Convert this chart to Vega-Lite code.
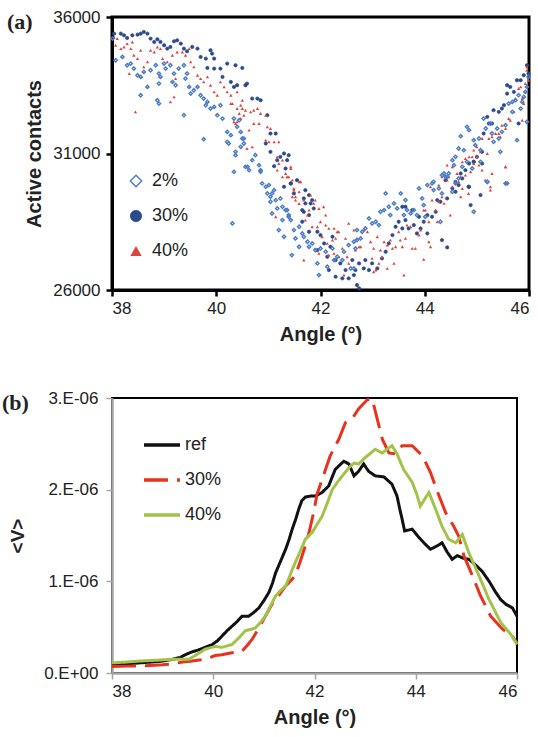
{
"$schema": "https://vega.github.io/schema/vega-lite/v6.json",
"background": "white",
"padding": {"left": 1, "top": 6, "right": 8, "bottom": 4},
"config": {"font": "Liberation Sans", "axis": {"labelFont": "Liberation Sans", "titleFont": "Liberation Sans"}, "legend": {"labelFont": "Liberation Sans"}},
"align": "none",
"spacing": 42,
"resolve": {"scale": {"x": "independent", "y": "independent", "fill": "independent", "stroke": "independent", "shape": "independent", "strokeWidth": "independent", "color": "independent", "strokeDash": "independent"}},
"datasets": {
"scatter": [
{"angle":38.04,"contacts":35391,"series":"30%"},{"angle":38.17,"contacts":35391,"series":"30%"},{"angle":38.23,"contacts":35330,"series":"30%"},{"angle":38.29,"contacts":35232,"series":"30%"},{"angle":38.39,"contacts":35330,"series":"30%"},{"angle":38.49,"contacts":35354,"series":"30%"},{"angle":38.55,"contacts":35391,"series":"30%"},{"angle":38.61,"contacts":35452,"series":"30%"},{"angle":38.68,"contacts":35391,"series":"30%"},{"angle":38.74,"contacts":35208,"series":"30%"},{"angle":38.81,"contacts":35086,"series":"30%"},{"angle":38.87,"contacts":35184,"series":"30%"},{"angle":38.93,"contacts":35086,"series":"30%"},{"angle":39.00,"contacts":34964,"series":"30%"},{"angle":39.06,"contacts":34842,"series":"30%"},{"angle":39.12,"contacts":34903,"series":"30%"},{"angle":39.19,"contacts":35110,"series":"30%"},{"angle":39.25,"contacts":35147,"series":"30%"},{"angle":39.32,"contacts":35025,"series":"30%"},{"angle":39.38,"contacts":34842,"series":"30%"},{"angle":39.44,"contacts":34744,"series":"30%"},{"angle":39.54,"contacts":34903,"series":"30%"},{"angle":39.64,"contacts":34842,"series":"30%"},{"angle":39.70,"contacts":34537,"series":"30%"},{"angle":39.80,"contacts":34476,"series":"30%"},{"angle":39.89,"contacts":34781,"series":"30%"},{"angle":39.92,"contacts":34659,"series":"30%"},{"angle":39.96,"contacts":34476,"series":"30%"},{"angle":39.83,"contacts":34134,"series":"30%"},{"angle":39.96,"contacts":34110,"series":"30%"},{"angle":40.08,"contacts":34110,"series":"30%"},{"angle":40.21,"contacts":34293,"series":"30%"},{"angle":40.37,"contacts":34232,"series":"30%"},{"angle":40.50,"contacts":34134,"series":"30%"},{"angle":40.12,"contacts":33805,"series":"30%"},{"angle":40.28,"contacts":33622,"series":"30%"},{"angle":40.34,"contacts":33439,"series":"30%"},{"angle":40.56,"contacts":33500,"series":"30%"},
{"angle":40.40,"contacts":33501,"series":"30%"},{"angle":40.59,"contacts":33562,"series":"30%"},{"angle":40.69,"contacts":33013,"series":"30%"},{"angle":40.79,"contacts":33013,"series":"30%"},{"angle":40.85,"contacts":32952,"series":"30%"},{"angle":40.98,"contacts":32403,"series":"30%"},{"angle":41.04,"contacts":31732,"series":"30%"},{"angle":41.14,"contacts":31732,"series":"30%"},{"angle":40.95,"contacts":31366,"series":"30%"},{"angle":41.04,"contacts":31061,"series":"30%"},{"angle":41.17,"contacts":30756,"series":"30%"},{"angle":41.23,"contacts":30878,"series":"30%"},{"angle":41.30,"contacts":31000,"series":"30%"},{"angle":41.36,"contacts":30756,"series":"30%"},{"angle":41.39,"contacts":30939,"series":"30%"},{"angle":41.33,"contacts":30451,"series":"30%"},{"angle":41.43,"contacts":29902,"series":"30%"},{"angle":41.55,"contacts":30024,"series":"30%"},{"angle":41.71,"contacts":29658,"series":"30%"},{"angle":41.68,"contacts":29353,"series":"30%"},{"angle":41.78,"contacts":29475,"series":"30%"},{"angle":41.81,"contacts":29170,"series":"30%"},{"angle":41.68,"contacts":28865,"series":"30%"},{"angle":41.78,"contacts":28743,"series":"30%"},{"angle":41.87,"contacts":28987,"series":"30%"},
{"angle":41.11,"contacts":30537,"series":"30%"},{"angle":41.30,"contacts":29781,"series":"30%"},{"angle":41.43,"contacts":29903,"series":"30%"},{"angle":41.49,"contacts":29537,"series":"30%"},{"angle":41.65,"contacts":28927,"series":"30%"},{"angle":41.71,"contacts":29171,"series":"30%"},{"angle":41.84,"contacts":29293,"series":"30%"},{"angle":41.65,"contacts":28500,"series":"30%"},{"angle":41.78,"contacts":28134,"series":"30%"},{"angle":41.94,"contacts":28134,"series":"30%"},{"angle":42.00,"contacts":28012,"series":"30%"},{"angle":42.07,"contacts":27707,"series":"30%"},{"angle":42.23,"contacts":27951,"series":"30%"},{"angle":42.19,"contacts":27585,"series":"30%"},{"angle":42.13,"contacts":27219,"series":"30%"},{"angle":41.94,"contacts":27463,"series":"30%"},{"angle":42.29,"contacts":27097,"series":"30%"},{"angle":42.38,"contacts":26975,"series":"30%"},{"angle":42.16,"contacts":26731,"series":"30%"},{"angle":42.29,"contacts":26487,"series":"30%"},{"angle":42.42,"contacts":26426,"series":"30%"},{"angle":42.54,"contacts":26426,"series":"30%"},{"angle":42.64,"contacts":26548,"series":"30%"},{"angle":42.70,"contacts":26182,"series":"30%"},{"angle":42.74,"contacts":26060,"series":"30%"},{"angle":42.48,"contacts":26731,"series":"30%"},{"angle":42.61,"contacts":27097,"series":"30%"},
{"angle":42.67,"contacts":26731,"series":"30%"},{"angle":42.74,"contacts":26975,"series":"30%"},{"angle":42.83,"contacts":26792,"series":"30%"},{"angle":42.86,"contacts":27097,"series":"30%"},{"angle":42.93,"contacts":26731,"series":"30%"},{"angle":42.99,"contacts":26975,"series":"30%"},{"angle":43.09,"contacts":26792,"series":"30%"},{"angle":43.18,"contacts":27158,"series":"30%"},{"angle":43.25,"contacts":27402,"series":"30%"},{"angle":43.31,"contacts":27707,"series":"30%"},{"angle":43.38,"contacts":28012,"series":"30%"},{"angle":43.44,"contacts":28317,"series":"30%"},{"angle":43.50,"contacts":28500,"series":"30%"},{"angle":43.57,"contacts":28256,"series":"30%"},{"angle":43.63,"contacts":28561,"series":"30%"},{"angle":43.69,"contacts":28256,"series":"30%"},{"angle":43.79,"contacts":28378,"series":"30%"},{"angle":43.85,"contacts":28073,"series":"30%"},{"angle":43.92,"contacts":28256,"series":"30%"},{"angle":43.98,"contacts":28500,"series":"30%"},{"angle":44.05,"contacts":28744,"series":"30%"},{"angle":44.14,"contacts":28683,"series":"30%"},{"angle":44.21,"contacts":28866,"series":"30%"},{"angle":44.24,"contacts":29293,"series":"30%"},{"angle":44.30,"contacts":29232,"series":"30%"},{"angle":44.43,"contacts":29354,"series":"30%"},{"angle":44.53,"contacts":29720,"series":"30%"},{"angle":44.59,"contacts":29598,"series":"30%"},{"angle":44.65,"contacts":29842,"series":"30%"},{"angle":44.72,"contacts":30086,"series":"30%"},{"angle":44.78,"contacts":30391,"series":"30%"},{"angle":44.84,"contacts":29781,"series":"30%"},{"angle":44.94,"contacts":30696,"series":"30%"},{"angle":45.07,"contacts":29476,"series":"30%"},{"angle":44.88,"contacts":29110,"series":"30%"},{"angle":44.33,"contacts":27829,"series":"30%"},{"angle":44.43,"contacts":27561,"series":"30%"},{"angle":44.05,"contacts":28073,"series":"30%"},{"angle":43.89,"contacts":28683,"series":"30%"},{"angle":43.63,"contacts":29049,"series":"30%"},{"angle":43.57,"contacts":29049,"series":"30%"},{"angle":43.76,"contacts":28927,"series":"30%"},
{"angle":44.40,"contacts":30024,"series":"30%"},{"angle":44.59,"contacts":29963,"series":"30%"},{"angle":44.69,"contacts":30268,"series":"30%"},{"angle":44.85,"contacts":30634,"series":"30%"},{"angle":44.94,"contacts":30695,"series":"30%"},{"angle":45.00,"contacts":30878,"series":"30%"},{"angle":45.10,"contacts":31061,"series":"30%"},{"angle":45.13,"contacts":31732,"series":"30%"},{"angle":45.20,"contacts":32342,"series":"30%"},{"angle":45.23,"contacts":32098,"series":"30%"},{"angle":45.29,"contacts":32098,"series":"30%"},{"angle":45.32,"contacts":32586,"series":"30%"},{"angle":45.42,"contacts":32525,"series":"30%"},{"angle":45.48,"contacts":32647,"series":"30%"},{"angle":45.52,"contacts":32769,"series":"30%"},{"angle":45.58,"contacts":33501,"series":"30%"},{"angle":45.64,"contacts":33440,"series":"30%"},{"angle":45.71,"contacts":33257,"series":"30%"},{"angle":45.77,"contacts":33684,"series":"30%"},{"angle":45.84,"contacts":33684,"series":"30%"},{"angle":45.90,"contacts":33867,"series":"30%"},{"angle":45.96,"contacts":34233,"series":"30%"},{"angle":45.99,"contacts":33928,"series":"30%"},{"angle":45.80,"contacts":32098,"series":"30%"},{"angle":45.58,"contacts":33196,"series":"30%"},{"angle":45.10,"contacts":30634,"series":"30%"},{"angle":44.85,"contacts":29780,"series":"30%"},

{"angle":38.04,"contacts":35269,"series":"40%"},{"angle":38.10,"contacts":35208,"series":"40%"},{"angle":38.07,"contacts":34964,"series":"40%"},{"angle":38.17,"contacts":34842,"series":"40%"},{"angle":38.23,"contacts":34903,"series":"40%"},{"angle":38.29,"contacts":35025,"series":"40%"},{"angle":38.36,"contacts":34842,"series":"40%"},{"angle":38.39,"contacts":35086,"series":"40%"},{"angle":38.42,"contacts":34598,"series":"40%"},{"angle":38.49,"contacts":34476,"series":"40%"},{"angle":38.55,"contacts":34781,"series":"40%"},{"angle":38.61,"contacts":34171,"series":"40%"},{"angle":38.68,"contacts":34354,"series":"40%"},{"angle":38.74,"contacts":34781,"series":"40%"},{"angle":38.81,"contacts":34720,"series":"40%"},{"angle":38.87,"contacts":34903,"series":"40%"},{"angle":38.93,"contacts":34842,"series":"40%"},{"angle":38.97,"contacts":34476,"series":"40%"},{"angle":39.06,"contacts":34354,"series":"40%"},{"angle":39.16,"contacts":34598,"series":"40%"},{"angle":39.22,"contacts":33744,"series":"40%"},{"angle":39.12,"contacts":32890,"series":"40%"},{"angle":39.19,"contacts":33073,"series":"40%"},{"angle":39.25,"contacts":34720,"series":"40%"},{"angle":39.35,"contacts":34720,"series":"40%"},{"angle":39.41,"contacts":34598,"series":"40%"},{"angle":39.48,"contacts":34842,"series":"40%"},{"angle":39.51,"contacts":34354,"series":"40%"},{"angle":39.57,"contacts":34171,"series":"40%"},{"angle":39.64,"contacts":33866,"series":"40%"},{"angle":39.70,"contacts":33744,"series":"40%"},{"angle":39.76,"contacts":33622,"series":"40%"},{"angle":39.83,"contacts":33805,"series":"40%"},{"angle":39.89,"contacts":33500,"series":"40%"},{"angle":39.96,"contacts":33256,"series":"40%"},{"angle":40.02,"contacts":33134,"series":"40%"},{"angle":40.08,"contacts":33622,"series":"40%"},{"angle":40.15,"contacts":33439,"series":"40%"},{"angle":40.21,"contacts":33256,"series":"40%"},{"angle":40.28,"contacts":33134,"series":"40%"},{"angle":40.31,"contacts":32829,"series":"40%"},{"angle":40.40,"contacts":33256,"series":"40%"},{"angle":40.47,"contacts":32768,"series":"40%"},{"angle":40.50,"contacts":32951,"series":"40%"},{"angle":40.44,"contacts":32463,"series":"40%"},{"angle":40.53,"contacts":32402,"series":"40%"},{"angle":40.40,"contacts":32158,"series":"40%"},{"angle":40.34,"contacts":32158,"series":"40%"},{"angle":38.45,"contacts":32524,"series":"40%"},{"angle":38.33,"contacts":33927,"series":"40%"},
{"angle":40.28,"contacts":32830,"series":"40%"},{"angle":40.40,"contacts":32647,"series":"40%"},{"angle":40.50,"contacts":32647,"series":"40%"},{"angle":40.56,"contacts":32586,"series":"40%"},{"angle":40.66,"contacts":32525,"series":"40%"},{"angle":40.72,"contacts":32586,"series":"40%"},{"angle":40.79,"contacts":32647,"series":"40%"},{"angle":40.85,"contacts":32464,"series":"40%"},{"angle":40.95,"contacts":32403,"series":"40%"},{"angle":40.98,"contacts":31976,"series":"40%"},{"angle":41.04,"contacts":31915,"series":"40%"},{"angle":40.82,"contacts":32098,"series":"40%"},{"angle":40.72,"contacts":32098,"series":"40%"},{"angle":40.63,"contacts":31854,"series":"40%"},{"angle":40.47,"contacts":32281,"series":"40%"},{"angle":40.37,"contacts":32098,"series":"40%"},{"angle":40.95,"contacts":31488,"series":"40%"},{"angle":41.01,"contacts":31427,"series":"40%"},{"angle":41.11,"contacts":31427,"series":"40%"},{"angle":41.20,"contacts":31427,"series":"40%"},{"angle":41.17,"contacts":30878,"series":"40%"},{"angle":41.27,"contacts":30756,"series":"40%"},{"angle":41.43,"contacts":30451,"series":"40%"},{"angle":41.33,"contacts":30268,"series":"40%"},{"angle":41.27,"contacts":30146,"series":"40%"},{"angle":41.39,"contacts":30146,"series":"40%"},{"angle":41.46,"contacts":30024,"series":"40%"},{"angle":41.59,"contacts":29963,"series":"40%"},{"angle":41.49,"contacts":29658,"series":"40%"},{"angle":41.52,"contacts":29414,"series":"40%"},{"angle":41.59,"contacts":29170,"series":"40%"},{"angle":41.68,"contacts":29292,"series":"40%"},{"angle":41.81,"contacts":29475,"series":"40%"},{"angle":41.90,"contacts":29292,"series":"40%"},{"angle":41.97,"contacts":28987,"series":"40%"},{"angle":42.06,"contacts":29048,"series":"40%"},{"angle":42.10,"contacts":28743,"series":"40%"},{"angle":41.14,"contacts":28682,"series":"40%"},{"angle":40.59,"contacts":31183,"series":"40%"},{"angle":40.69,"contacts":31244,"series":"40%"},
{"angle":41.20,"contacts":30635,"series":"40%"},{"angle":41.17,"contacts":30391,"series":"40%"},{"angle":41.36,"contacts":30147,"series":"40%"},{"angle":41.43,"contacts":30513,"series":"40%"},{"angle":41.49,"contacts":29720,"series":"40%"},{"angle":41.59,"contacts":29598,"series":"40%"},{"angle":41.46,"contacts":29415,"series":"40%"},{"angle":41.62,"contacts":29964,"series":"40%"},{"angle":41.52,"contacts":29293,"series":"40%"},{"angle":41.78,"contacts":28927,"series":"40%"},{"angle":41.87,"contacts":29171,"series":"40%"},{"angle":41.75,"contacts":28744,"series":"40%"},{"angle":41.71,"contacts":28561,"series":"40%"},{"angle":41.84,"contacts":28317,"series":"40%"},{"angle":41.94,"contacts":28317,"series":"40%"},{"angle":42.00,"contacts":28500,"series":"40%"},{"angle":42.10,"contacts":28378,"series":"40%"},{"angle":42.16,"contacts":28256,"series":"40%"},{"angle":42.26,"contacts":28256,"series":"40%"},{"angle":42.32,"contacts":28134,"series":"40%"},{"angle":42.03,"contacts":27951,"series":"40%"},{"angle":42.13,"contacts":27707,"series":"40%"},{"angle":42.23,"contacts":27829,"series":"40%"},{"angle":42.29,"contacts":27890,"series":"40%"},{"angle":42.35,"contacts":28134,"series":"40%"},{"angle":42.48,"contacts":27890,"series":"40%"},{"angle":42.54,"contacts":28439,"series":"40%"},{"angle":42.64,"contacts":28195,"series":"40%"},{"angle":42.74,"contacts":27585,"series":"40%"},{"angle":42.67,"contacts":27463,"series":"40%"},{"angle":42.42,"contacts":27524,"series":"40%"},{"angle":42.51,"contacts":27219,"series":"40%"},{"angle":42.26,"contacts":27341,"series":"40%"},{"angle":42.16,"contacts":27280,"series":"40%"},{"angle":41.97,"contacts":27341,"series":"40%"},{"angle":41.68,"contacts":27097,"series":"40%"},{"angle":42.35,"contacts":27219,"series":"40%"},{"angle":42.45,"contacts":26548,"series":"40%"},{"angle":42.54,"contacts":26975,"series":"40%"},
{"angle":42.70,"contacts":27890,"series":"40%"},{"angle":42.77,"contacts":27585,"series":"40%"},{"angle":42.83,"contacts":28195,"series":"40%"},{"angle":42.90,"contacts":28134,"series":"40%"},{"angle":42.96,"contacts":27768,"series":"40%"},{"angle":43.02,"contacts":27524,"series":"40%"},{"angle":43.09,"contacts":27951,"series":"40%"},{"angle":43.15,"contacts":27463,"series":"40%"},{"angle":43.18,"contacts":27219,"series":"40%"},{"angle":42.99,"contacts":27158,"series":"40%"},{"angle":43.02,"contacts":26670,"series":"40%"},{"angle":43.06,"contacts":26731,"series":"40%"},{"angle":43.12,"contacts":26975,"series":"40%"},{"angle":43.22,"contacts":27768,"series":"40%"},{"angle":43.28,"contacts":27646,"series":"40%"},{"angle":43.34,"contacts":27829,"series":"40%"},{"angle":43.38,"contacts":27524,"series":"40%"},{"angle":43.44,"contacts":27585,"series":"40%"},{"angle":43.50,"contacts":28134,"series":"40%"},{"angle":43.53,"contacts":27829,"series":"40%"},{"angle":43.57,"contacts":27585,"series":"40%"},{"angle":43.63,"contacts":27890,"series":"40%"},{"angle":43.66,"contacts":28378,"series":"40%"},{"angle":43.73,"contacts":28317,"series":"40%"},{"angle":43.76,"contacts":27524,"series":"40%"},{"angle":43.82,"contacts":27524,"series":"40%"},{"angle":43.89,"contacts":28012,"series":"40%"},{"angle":43.92,"contacts":28195,"series":"40%"},{"angle":43.98,"contacts":28927,"series":"40%"},{"angle":44.01,"contacts":28927,"series":"40%"},{"angle":44.08,"contacts":28500,"series":"40%"},{"angle":44.14,"contacts":29293,"series":"40%"},{"angle":44.21,"contacts":28927,"series":"40%"},{"angle":44.24,"contacts":28500,"series":"40%"},{"angle":44.27,"contacts":29232,"series":"40%"},{"angle":44.33,"contacts":29415,"series":"40%"},{"angle":44.37,"contacts":29171,"series":"40%"},{"angle":44.43,"contacts":30025,"series":"40%"},{"angle":44.46,"contacts":30147,"series":"40%"},{"angle":44.53,"contacts":29781,"series":"40%"},{"angle":44.65,"contacts":29964,"series":"40%"},{"angle":44.72,"contacts":29720,"series":"40%"},{"angle":44.78,"contacts":30208,"series":"40%"},{"angle":44.84,"contacts":29537,"series":"40%"},{"angle":44.88,"contacts":30330,"series":"40%"},{"angle":44.94,"contacts":30635,"series":"40%"},{"angle":45.04,"contacts":30574,"series":"40%"},{"angle":45.10,"contacts":30391,"series":"40%"},{"angle":45.16,"contacts":30025,"series":"40%"},{"angle":45.26,"contacts":29659,"series":"40%"},{"angle":45.55,"contacts":30513,"series":"40%"},{"angle":43.41,"contacts":26975,"series":"40%"},{"angle":43.60,"contacts":26548,"series":"40%"},{"angle":43.98,"contacts":27121,"series":"40%"},{"angle":44.08,"contacts":27768,"series":"40%"},{"angle":44.11,"contacts":27585,"series":"40%"},{"angle":43.28,"contacts":26792,"series":"40%"},{"angle":44.49,"contacts":28744,"series":"40%"},{"angle":44.69,"contacts":29415,"series":"40%"},
{"angle":44.11,"contacts":29780,"series":"40%"},{"angle":44.27,"contacts":29841,"series":"40%"},{"angle":44.33,"contacts":30146,"series":"40%"},{"angle":44.43,"contacts":30573,"series":"40%"},{"angle":44.53,"contacts":30512,"series":"40%"},{"angle":44.62,"contacts":30268,"series":"40%"},{"angle":44.69,"contacts":30146,"series":"40%"},{"angle":44.72,"contacts":30695,"series":"40%"},{"angle":44.78,"contacts":30817,"series":"40%"},{"angle":44.85,"contacts":30878,"series":"40%"},{"angle":44.91,"contacts":30878,"series":"40%"},{"angle":44.94,"contacts":31122,"series":"40%"},{"angle":45.00,"contacts":31244,"series":"40%"},{"angle":45.07,"contacts":31061,"series":"40%"},{"angle":45.10,"contacts":31549,"series":"40%"},{"angle":45.20,"contacts":31000,"series":"40%"},{"angle":45.23,"contacts":31549,"series":"40%"},{"angle":45.29,"contacts":31610,"series":"40%"},{"angle":45.36,"contacts":31732,"series":"40%"},{"angle":45.42,"contacts":31732,"series":"40%"},{"angle":45.45,"contacts":31610,"series":"40%"},{"angle":45.48,"contacts":32037,"series":"40%"},{"angle":45.55,"contacts":31915,"series":"40%"},{"angle":45.61,"contacts":32281,"series":"40%"},{"angle":45.64,"contacts":32220,"series":"40%"},{"angle":45.71,"contacts":32525,"series":"40%"},{"angle":45.74,"contacts":33013,"series":"40%"},{"angle":45.80,"contacts":33379,"series":"40%"},{"angle":45.84,"contacts":33440,"series":"40%"},{"angle":45.87,"contacts":33013,"series":"40%"},{"angle":45.90,"contacts":32830,"series":"40%"},{"angle":45.93,"contacts":33562,"series":"40%"},{"angle":45.96,"contacts":34172,"series":"40%"},{"angle":45.99,"contacts":33684,"series":"40%"},{"angle":45.26,"contacts":29780,"series":"40%"},{"angle":45.55,"contacts":30512,"series":"40%"},{"angle":45.29,"contacts":30268,"series":"40%"},{"angle":45.00,"contacts":30878,"series":"40%"},{"angle":45.87,"contacts":32220,"series":"40%"},{"angle":45.96,"contacts":34050,"series":"40%"},

{"angle":38.01,"contacts":35208,"series":"2%"},{"angle":38.07,"contacts":34415,"series":"2%"},{"angle":38.20,"contacts":34537,"series":"2%"},{"angle":38.29,"contacts":34232,"series":"2%"},{"angle":38.36,"contacts":34293,"series":"2%"},{"angle":38.42,"contacts":34110,"series":"2%"},{"angle":38.49,"contacts":33866,"series":"2%"},{"angle":38.55,"contacts":33805,"series":"2%"},{"angle":38.61,"contacts":33988,"series":"2%"},{"angle":38.68,"contacts":33439,"series":"2%"},{"angle":38.55,"contacts":33134,"series":"2%"},{"angle":38.74,"contacts":34049,"series":"2%"},{"angle":38.84,"contacts":34232,"series":"2%"},{"angle":38.90,"contacts":33927,"series":"2%"},{"angle":38.90,"contacts":33561,"series":"2%"},{"angle":38.93,"contacts":33805,"series":"2%"},{"angle":39.00,"contacts":34293,"series":"2%"},{"angle":39.03,"contacts":34110,"series":"2%"},{"angle":39.12,"contacts":34232,"series":"2%"},{"angle":39.16,"contacts":33622,"series":"2%"},{"angle":39.22,"contacts":33500,"series":"2%"},{"angle":39.19,"contacts":33927,"series":"2%"},{"angle":39.28,"contacts":34110,"series":"2%"},{"angle":39.38,"contacts":34232,"series":"2%"},{"angle":39.41,"contacts":33744,"series":"2%"},{"angle":39.44,"contacts":33927,"series":"2%"},{"angle":39.48,"contacts":33439,"series":"2%"},{"angle":39.51,"contacts":33195,"series":"2%"},{"angle":39.57,"contacts":33317,"series":"2%"},{"angle":39.64,"contacts":33439,"series":"2%"},{"angle":39.70,"contacts":33134,"series":"2%"},{"angle":39.76,"contacts":33012,"series":"2%"},{"angle":39.83,"contacts":32890,"series":"2%"},{"angle":39.80,"contacts":32768,"series":"2%"},{"angle":39.89,"contacts":32646,"series":"2%"},{"angle":39.96,"contacts":32707,"series":"2%"},{"angle":40.08,"contacts":32768,"series":"2%"},{"angle":40.02,"contacts":32402,"series":"2%"},{"angle":38.87,"contacts":32951,"series":"2%"},{"angle":38.90,"contacts":32829,"series":"2%"},{"angle":39.38,"contacts":32402,"series":"2%"},{"angle":39.76,"contacts":31524,"series":"2%"},{"angle":40.12,"contacts":32280,"series":"2%"},{"angle":40.34,"contacts":32280,"series":"2%"},{"angle":40.44,"contacts":32219,"series":"2%"},{"angle":40.21,"contacts":31792,"series":"2%"},{"angle":40.28,"contacts":31670,"series":"2%"},{"angle":40.47,"contacts":31792,"series":"2%"},{"angle":40.53,"contacts":31548,"series":"2%"},{"angle":40.24,"contacts":31365,"series":"2%"},{"angle":40.37,"contacts":31060,"series":"2%"},
{"angle":40.40,"contacts":31976,"series":"2%"},{"angle":40.37,"contacts":30939,"series":"2%"},{"angle":40.21,"contacts":31427,"series":"2%"},{"angle":40.50,"contacts":31549,"series":"2%"},{"angle":40.53,"contacts":31366,"series":"2%"},{"angle":40.47,"contacts":31244,"series":"2%"},{"angle":40.56,"contacts":30512,"series":"2%"},{"angle":40.63,"contacts":30390,"series":"2%"},{"angle":40.69,"contacts":30756,"series":"2%"},{"angle":40.75,"contacts":30939,"series":"2%"},{"angle":40.82,"contacts":30573,"series":"2%"},{"angle":40.85,"contacts":30390,"series":"2%"},{"angle":40.88,"contacts":29902,"series":"2%"},{"angle":40.95,"contacts":29780,"series":"2%"},{"angle":40.98,"contacts":29536,"series":"2%"},{"angle":41.04,"contacts":29414,"series":"2%"},{"angle":41.11,"contacts":29658,"series":"2%"},{"angle":41.14,"contacts":29292,"series":"2%"},{"angle":41.23,"contacts":29353,"series":"2%"},{"angle":41.17,"contacts":28987,"series":"2%"},{"angle":41.27,"contacts":29048,"series":"2%"},{"angle":41.36,"contacts":28926,"series":"2%"},{"angle":41.39,"contacts":28743,"series":"2%"},{"angle":41.07,"contacts":28804,"series":"2%"},{"angle":40.34,"contacts":30329,"series":"2%"},
{"angle":40.31,"contacts":28439,"series":"2%"},{"angle":40.60,"contacts":30513,"series":"2%"},{"angle":40.85,"contacts":30330,"series":"2%"},{"angle":41.01,"contacts":29842,"series":"2%"},{"angle":41.07,"contacts":29537,"series":"2%"},{"angle":41.04,"contacts":29232,"series":"2%"},{"angle":41.33,"contacts":28927,"series":"2%"},{"angle":41.39,"contacts":28683,"series":"2%"},{"angle":41.27,"contacts":28561,"series":"2%"},{"angle":41.20,"contacts":28195,"series":"2%"},{"angle":41.30,"contacts":27951,"series":"2%"},{"angle":41.43,"contacts":28561,"series":"2%"},{"angle":41.49,"contacts":28195,"series":"2%"},{"angle":41.52,"contacts":27890,"series":"2%"},{"angle":41.59,"contacts":28317,"series":"2%"},{"angle":41.65,"contacts":28073,"series":"2%"},{"angle":41.68,"contacts":27951,"series":"2%"},{"angle":41.75,"contacts":27768,"series":"2%"},{"angle":41.78,"contacts":27585,"series":"2%"},{"angle":41.59,"contacts":27585,"series":"2%"},{"angle":41.45,"contacts":27280,"series":"2%"},{"angle":41.84,"contacts":27707,"series":"2%"},{"angle":41.90,"contacts":27463,"series":"2%"},{"angle":42.00,"contacts":27524,"series":"2%"},{"angle":42.10,"contacts":27402,"series":"2%"},{"angle":41.94,"contacts":26975,"series":"2%"},{"angle":42.13,"contacts":26853,"series":"2%"},{"angle":41.97,"contacts":26548,"series":"2%"},{"angle":42.23,"contacts":27524,"series":"2%"},{"angle":42.26,"contacts":27097,"series":"2%"},{"angle":42.32,"contacts":27219,"series":"2%"},{"angle":42.42,"contacts":27097,"series":"2%"},{"angle":42.54,"contacts":27646,"series":"2%"},{"angle":42.64,"contacts":27768,"series":"2%"},{"angle":42.70,"contacts":28195,"series":"2%"},{"angle":42.58,"contacts":26792,"series":"2%"},{"angle":42.45,"contacts":27402,"series":"2%"},
{"angle":42.64,"contacts":26792,"series":"2%"},{"angle":42.67,"contacts":27524,"series":"2%"},{"angle":42.70,"contacts":27829,"series":"2%"},{"angle":42.77,"contacts":27890,"series":"2%"},{"angle":42.80,"contacts":28134,"series":"2%"},{"angle":42.86,"contacts":28256,"series":"2%"},{"angle":42.93,"contacts":28622,"series":"2%"},{"angle":42.99,"contacts":28439,"series":"2%"},{"angle":43.06,"contacts":28500,"series":"2%"},{"angle":43.12,"contacts":28378,"series":"2%"},{"angle":43.15,"contacts":28866,"series":"2%"},{"angle":43.22,"contacts":28927,"series":"2%"},{"angle":43.25,"contacts":29537,"series":"2%"},{"angle":43.31,"contacts":29049,"series":"2%"},{"angle":43.34,"contacts":28744,"series":"2%"},{"angle":43.41,"contacts":29171,"series":"2%"},{"angle":43.47,"contacts":28988,"series":"2%"},{"angle":43.54,"contacts":29537,"series":"2%"},{"angle":43.63,"contacts":29293,"series":"2%"},{"angle":43.60,"contacts":28744,"series":"2%"},{"angle":43.66,"contacts":28927,"series":"2%"},{"angle":43.73,"contacts":28805,"series":"2%"},{"angle":43.79,"contacts":28927,"series":"2%"},{"angle":43.85,"contacts":28744,"series":"2%"},{"angle":43.89,"contacts":29720,"series":"2%"},{"angle":43.95,"contacts":29354,"series":"2%"},{"angle":43.98,"contacts":29110,"series":"2%"},{"angle":44.05,"contacts":29842,"series":"2%"},{"angle":44.14,"contacts":29903,"series":"2%"},{"angle":44.17,"contacts":29659,"series":"2%"},{"angle":44.27,"contacts":29720,"series":"2%"},{"angle":44.33,"contacts":29537,"series":"2%"},{"angle":44.37,"contacts":30269,"series":"2%"},{"angle":44.43,"contacts":30147,"series":"2%"},{"angle":44.53,"contacts":29598,"series":"2%"},{"angle":44.59,"contacts":29903,"series":"2%"},{"angle":44.65,"contacts":30086,"series":"2%"},{"angle":44.72,"contacts":30513,"series":"2%"},{"angle":44.81,"contacts":30696,"series":"2%"},{"angle":44.91,"contacts":30452,"series":"2%"},{"angle":45.07,"contacts":30696,"series":"2%"},{"angle":44.94,"contacts":28866,"series":"2%"},{"angle":45.20,"contacts":29964,"series":"2%"},{"angle":45.55,"contacts":29903,"series":"2%"},{"angle":44.01,"contacts":28683,"series":"2%"},{"angle":44.30,"contacts":28500,"series":"2%"},
{"angle":44.17,"contacts":29963,"series":"2%"},{"angle":44.33,"contacts":30207,"series":"2%"},{"angle":44.40,"contacts":30146,"series":"2%"},{"angle":44.46,"contacts":30268,"series":"2%"},{"angle":44.53,"contacts":30756,"series":"2%"},{"angle":44.59,"contacts":30878,"series":"2%"},{"angle":44.56,"contacts":30573,"series":"2%"},{"angle":44.65,"contacts":31183,"series":"2%"},{"angle":44.75,"contacts":31122,"series":"2%"},{"angle":44.69,"contacts":31634,"series":"2%"},{"angle":44.81,"contacts":31976,"series":"2%"},{"angle":44.85,"contacts":31854,"series":"2%"},{"angle":44.94,"contacts":31488,"series":"2%"},{"angle":44.97,"contacts":31305,"series":"2%"},{"angle":45.04,"contacts":31549,"series":"2%"},{"angle":45.07,"contacts":31122,"series":"2%"},{"angle":45.13,"contacts":32281,"series":"2%"},{"angle":45.17,"contacts":31915,"series":"2%"},{"angle":45.26,"contacts":32098,"series":"2%"},{"angle":45.29,"contacts":31732,"series":"2%"},{"angle":45.32,"contacts":31427,"series":"2%"},{"angle":45.39,"contacts":31915,"series":"2%"},{"angle":45.45,"contacts":31061,"series":"2%"},{"angle":45.48,"contacts":31793,"series":"2%"},{"angle":45.55,"contacts":32037,"series":"2%"},{"angle":45.61,"contacts":32830,"series":"2%"},{"angle":45.68,"contacts":32891,"series":"2%"},{"angle":45.74,"contacts":32952,"series":"2%"},{"angle":45.77,"contacts":31488,"series":"2%"},{"angle":45.84,"contacts":32647,"series":"2%"},{"angle":45.87,"contacts":32891,"series":"2%"},{"angle":45.90,"contacts":33074,"series":"2%"},{"angle":45.93,"contacts":33257,"series":"2%"},{"angle":45.96,"contacts":33440,"series":"2%"},{"angle":45.99,"contacts":33806,"series":"2%"},{"angle":45.96,"contacts":32159,"series":"2%"},{"angle":45.58,"contacts":29902,"series":"2%"},{"angle":45.20,"contacts":29963,"series":"2%"},{"angle":45.80,"contacts":33135,"series":"2%"},{"angle":45.68,"contacts":32525,"series":"2%"},{"angle":45.42,"contacts":31549,"series":"2%"}
],
"lines": [
{"angle":38.00,"v":0.095e-6,"series":"ref"},{"angle":38.30,"v":0.10e-6,"series":"ref"},{"angle":38.53,"v":0.11e-6,"series":"ref"},{"angle":38.80,"v":0.12e-6,"series":"ref"},{"angle":39.00,"v":0.13e-6,"series":"ref"},{"angle":39.19,"v":0.15e-6,"series":"ref"},{"angle":39.35,"v":0.17e-6,"series":"ref"},{"angle":39.45,"v":0.20e-6,"series":"ref"},{"angle":39.58,"v":0.23e-6,"series":"ref"},{"angle":39.70,"v":0.25e-6,"series":"ref"},{"angle":39.84,"v":0.28e-6,"series":"ref"},{"angle":39.98,"v":0.31e-6,"series":"ref"},{"angle":40.08,"v":0.35e-6,"series":"ref"},{"angle":40.17,"v":0.40e-6,"series":"ref"},{"angle":40.27,"v":0.46e-6,"series":"ref"},{"angle":40.37,"v":0.51e-6,"series":"ref"},{"angle":40.47,"v":0.56e-6,"series":"ref"},{"angle":40.57,"v":0.62e-6,"series":"ref"},{"angle":40.70,"v":0.62e-6,"series":"ref"},{"angle":40.80,"v":0.66e-6,"series":"ref"},{"angle":40.90,"v":0.71e-6,"series":"ref"},{"angle":41.00,"v":0.79e-6,"series":"ref"},{"angle":41.10,"v":0.88e-6,"series":"ref"},{"angle":41.17,"v":0.98e-6,"series":"ref"},{"angle":41.23,"v":1.09e-6,"series":"ref"},{"angle":41.33,"v":1.22e-6,"series":"ref"},{"angle":41.43,"v":1.35e-6,"series":"ref"},{"angle":41.50,"v":1.46e-6,"series":"ref"},{"angle":41.56,"v":1.57e-6,"series":"ref"},{"angle":41.63,"v":1.68e-6,"series":"ref"},{"angle":41.69,"v":1.79e-6,"series":"ref"},{"angle":41.75,"v":1.88e-6,"series":"ref"},{"angle":41.82,"v":1.92e-6,"series":"ref"},{"angle":41.92,"v":1.93e-6,"series":"ref"},{"angle":42.02,"v":1.93e-6,"series":"ref"},{"angle":42.15,"v":1.97e-6,"series":"ref"},{"angle":42.28,"v":2.04e-6,"series":"ref"},{"angle":42.35,"v":2.14e-6,"series":"ref"},{"angle":42.41,"v":2.22e-6,"series":"ref"},{"angle":42.50,"v":2.27e-6,"series":"ref"},{"angle":42.58,"v":2.31e-6,"series":"ref"},{"angle":42.68,"v":2.28e-6,"series":"ref"},{"angle":42.78,"v":2.15e-6,"series":"ref"},{"angle":42.87,"v":2.20e-6,"series":"ref"},{"angle":42.97,"v":2.28e-6,"series":"ref"},{"angle":43.07,"v":2.20e-6,"series":"ref"},{"angle":43.20,"v":2.15e-6,"series":"ref"},{"angle":43.37,"v":2.14e-6,"series":"ref"},{"angle":43.53,"v":2.06e-6,"series":"ref"},{"angle":43.63,"v":1.93e-6,"series":"ref"},{"angle":43.68,"v":1.80e-6,"series":"ref"},{"angle":43.73,"v":1.68e-6,"series":"ref"},{"angle":43.78,"v":1.55e-6,"series":"ref"},{"angle":43.86,"v":1.56e-6,"series":"ref"},{"angle":43.93,"v":1.57e-6,"series":"ref"},{"angle":44.06,"v":1.48e-6,"series":"ref"},{"angle":44.18,"v":1.41e-6,"series":"ref"},{"angle":44.29,"v":1.35e-6,"series":"ref"},{"angle":44.40,"v":1.38e-6,"series":"ref"},{"angle":44.52,"v":1.42e-6,"series":"ref"},{"angle":44.62,"v":1.32e-6,"series":"ref"},{"angle":44.72,"v":1.24e-6,"series":"ref"},{"angle":44.82,"v":1.28e-6,"series":"ref"},{"angle":44.95,"v":1.25e-6,"series":"ref"},{"angle":45.05,"v":1.24e-6,"series":"ref"},{"angle":45.18,"v":1.18e-6,"series":"ref"},{"angle":45.31,"v":1.11e-6,"series":"ref"},{"angle":45.45,"v":1.00e-6,"series":"ref"},{"angle":45.58,"v":0.88e-6,"series":"ref"},{"angle":45.68,"v":0.80e-6,"series":"ref"},{"angle":45.78,"v":0.75e-6,"series":"ref"},{"angle":45.91,"v":0.71e-6,"series":"ref"},{"angle":46.00,"v":0.62e-6,"series":"ref"},
{"angle":38.00,"v":0.07e-6,"series":"30%"},{"angle":38.30,"v":0.075e-6,"series":"30%"},{"angle":38.66,"v":0.08e-6,"series":"30%"},{"angle":39.00,"v":0.09e-6,"series":"30%"},{"angle":39.19,"v":0.10e-6,"series":"30%"},{"angle":39.40,"v":0.12e-6,"series":"30%"},{"angle":39.58,"v":0.13e-6,"series":"30%"},{"angle":39.84,"v":0.15e-6,"series":"30%"},{"angle":40.04,"v":0.19e-6,"series":"30%"},{"angle":40.17,"v":0.20e-6,"series":"30%"},{"angle":40.37,"v":0.22e-6,"series":"30%"},{"angle":40.57,"v":0.24e-6,"series":"30%"},{"angle":40.67,"v":0.30e-6,"series":"30%"},{"angle":40.77,"v":0.37e-6,"series":"30%"},{"angle":40.87,"v":0.46e-6,"series":"30%"},{"angle":40.96,"v":0.55e-6,"series":"30%"},{"angle":41.06,"v":0.65e-6,"series":"30%"},{"angle":41.16,"v":0.75e-6,"series":"30%"},{"angle":41.30,"v":0.85e-6,"series":"30%"},{"angle":41.43,"v":0.95e-6,"series":"30%"},{"angle":41.52,"v":1.00e-6,"series":"30%"},{"angle":41.62,"v":1.06e-6,"series":"30%"},{"angle":41.72,"v":1.22e-6,"series":"30%"},{"angle":41.82,"v":1.39e-6,"series":"30%"},{"angle":41.90,"v":1.55e-6,"series":"30%"},{"angle":41.99,"v":1.77e-6,"series":"30%"},{"angle":42.05,"v":1.95e-6,"series":"30%"},{"angle":42.15,"v":2.11e-6,"series":"30%"},{"angle":42.31,"v":2.37e-6,"series":"30%"},{"angle":42.48,"v":2.55e-6,"series":"30%"},{"angle":42.61,"v":2.73e-6,"series":"30%"},{"angle":42.74,"v":2.77e-6,"series":"30%"},{"angle":42.87,"v":2.88e-6,"series":"30%"},{"angle":43.04,"v":2.98e-6,"series":"30%"},{"angle":43.14,"v":2.99e-6,"series":"30%"},{"angle":43.24,"v":2.77e-6,"series":"30%"},{"angle":43.34,"v":2.55e-6,"series":"30%"},{"angle":43.47,"v":2.40e-6,"series":"30%"},{"angle":43.60,"v":2.39e-6,"series":"30%"},{"angle":43.73,"v":2.48e-6,"series":"30%"},{"angle":43.93,"v":2.48e-6,"series":"30%"},{"angle":44.13,"v":2.37e-6,"series":"30%"},{"angle":44.29,"v":2.19e-6,"series":"30%"},{"angle":44.42,"v":1.99e-6,"series":"30%"},{"angle":44.59,"v":1.75e-6,"series":"30%"},{"angle":44.75,"v":1.60e-6,"series":"30%"},{"angle":44.85,"v":1.49e-6,"series":"30%"},{"angle":44.95,"v":1.28e-6,"series":"30%"},{"angle":45.12,"v":1.06e-6,"series":"30%"},{"angle":45.28,"v":0.84e-6,"series":"30%"},{"angle":45.48,"v":0.62e-6,"series":"30%"},{"angle":45.71,"v":0.48e-6,"series":"30%"},{"angle":45.91,"v":0.40e-6,"series":"30%"},{"angle":46.00,"v":0.33e-6,"series":"30%"},
{"angle":38.00,"v":0.11e-6,"series":"40%"},{"angle":38.30,"v":0.12e-6,"series":"40%"},{"angle":38.53,"v":0.13e-6,"series":"40%"},{"angle":38.90,"v":0.14e-6,"series":"40%"},{"angle":39.19,"v":0.15e-6,"series":"40%"},{"angle":39.52,"v":0.15e-6,"series":"40%"},{"angle":39.70,"v":0.21e-6,"series":"40%"},{"angle":39.84,"v":0.26e-6,"series":"40%"},{"angle":40.04,"v":0.29e-6,"series":"40%"},{"angle":40.17,"v":0.28e-6,"series":"40%"},{"angle":40.37,"v":0.31e-6,"series":"40%"},{"angle":40.50,"v":0.38e-6,"series":"40%"},{"angle":40.63,"v":0.46e-6,"series":"40%"},{"angle":40.83,"v":0.49e-6,"series":"40%"},{"angle":40.93,"v":0.55e-6,"series":"40%"},{"angle":41.03,"v":0.62e-6,"series":"40%"},{"angle":41.13,"v":0.73e-6,"series":"40%"},{"angle":41.23,"v":0.84e-6,"series":"40%"},{"angle":41.33,"v":0.90e-6,"series":"40%"},{"angle":41.43,"v":0.95e-6,"series":"40%"},{"angle":41.50,"v":1.04e-6,"series":"40%"},{"angle":41.56,"v":1.13e-6,"series":"40%"},{"angle":41.64,"v":1.23e-6,"series":"40%"},{"angle":41.72,"v":1.33e-6,"series":"40%"},{"angle":41.82,"v":1.46e-6,"series":"40%"},{"angle":41.95,"v":1.53e-6,"series":"40%"},{"angle":42.05,"v":1.62e-6,"series":"40%"},{"angle":42.15,"v":1.71e-6,"series":"40%"},{"angle":42.25,"v":1.85e-6,"series":"40%"},{"angle":42.35,"v":2.00e-6,"series":"40%"},{"angle":42.45,"v":2.08e-6,"series":"40%"},{"angle":42.55,"v":2.15e-6,"series":"40%"},{"angle":42.68,"v":2.24e-6,"series":"40%"},{"angle":42.78,"v":2.29e-6,"series":"40%"},{"angle":42.87,"v":2.28e-6,"series":"40%"},{"angle":43.00,"v":2.35e-6,"series":"40%"},{"angle":43.20,"v":2.44e-6,"series":"40%"},{"angle":43.34,"v":2.40e-6,"series":"40%"},{"angle":43.43,"v":2.44e-6,"series":"40%"},{"angle":43.53,"v":2.48e-6,"series":"40%"},{"angle":43.63,"v":2.39e-6,"series":"40%"},{"angle":43.76,"v":2.22e-6,"series":"40%"},{"angle":43.93,"v":2.08e-6,"series":"40%"},{"angle":44.02,"v":1.95e-6,"series":"40%"},{"angle":44.09,"v":1.82e-6,"series":"40%"},{"angle":44.18,"v":1.90e-6,"series":"40%"},{"angle":44.26,"v":1.97e-6,"series":"40%"},{"angle":44.39,"v":1.79e-6,"series":"40%"},{"angle":44.52,"v":1.60e-6,"series":"40%"},{"angle":44.65,"v":1.46e-6,"series":"40%"},{"angle":44.79,"v":1.42e-6,"series":"40%"},{"angle":44.92,"v":1.51e-6,"series":"40%"},{"angle":45.05,"v":1.31e-6,"series":"40%"},{"angle":45.25,"v":1.06e-6,"series":"40%"},{"angle":45.45,"v":0.80e-6,"series":"40%"},{"angle":45.68,"v":0.55e-6,"series":"40%"},{"angle":45.88,"v":0.42e-6,"series":"40%"},{"angle":46.00,"v":0.31e-6,"series":"40%"}
]
},
"vconcat": [
{
"width": 417, "height": 273,
"data": {"name": "scatter"},
"view": {"stroke": "#000000", "strokeWidth": 3},
"title": {"text": "(a)", "anchor": "start", "frame": "group", "font": "Liberation Serif", "fontSize": 22, "fontWeight": "bold", "color": "#222222", "dx": -105, "dy": 26, "offset": 0},
"mark": {"type": "point", "filled": true, "size": 11, "opacity": 1},
"encoding": {
"x": {"field": "angle", "type": "quantitative", "scale": {"domain": [38, 46], "nice": false, "zero": false},
 "axis": {"values": [38, 40, 42, 44, 46], "grid": false, "domainColor": "#000000", "domainWidth": 3, "tickColor": "#000000", "tickWidth": 2.5, "tickSize": 6, "labelFontSize": 17, "labelColor": "#222222", "labelPadding": 4, "title": "Angle (°)", "titleFontSize": 20, "titleFontWeight": "bold", "titleColor": "#222222", "titlePadding": 8}},
"y": {"field": "contacts", "type": "quantitative", "scale": {"domain": [26000, 36000], "nice": false, "zero": false},
 "axis": {"values": [26000, 31000, 36000], "format": "d", "grid": false, "domainColor": "#000000", "domainWidth": 3, "tickColor": "#000000", "tickWidth": 2.5, "tickSize": 6, "labelFontSize": 17, "labelColor": "#222222", "labelPadding": 6, "title": "Active contacts", "titleFontSize": 20, "titleFontWeight": "bold", "titleColor": "#222222", "titlePadding": 8}},
"fill": {"field": "series", "type": "nominal", "scale": {"domain": ["2%", "30%", "40%"], "range": ["transparent", "#2b4a8b", "#d8463f"]},
 "legend": {"orient": "none", "legendX": 15, "legendY": 155, "title": null, "labelFontSize": 18, "labelColor": "#222222", "labelOffset": 7, "rowPadding": 17, "symbolSize": 130}},
"stroke": {"field": "series", "type": "nominal", "scale": {"domain": ["2%", "30%", "40%"], "range": ["#4a7cc4", "#2b4a8b", "#d8463f"]}},
"strokeWidth": {"field": "series", "type": "nominal", "scale": {"domain": ["2%", "30%", "40%"], "range": [1.4, 0.01, 1.0]}},
"shape": {"field": "series", "type": "nominal", "scale": {"domain": ["2%", "30%", "40%"], "range": ["diamond", "circle", "triangle-up"]}}
}
},
{
"width": 405, "height": 275,
"data": {"name": "lines"},
"view": {"stroke": "#000000", "strokeWidth": 2},
"title": {"text": "(b)", "anchor": "start", "frame": "group", "font": "Liberation Serif", "fontSize": 22, "fontWeight": "bold", "color": "#222222", "dx": -110, "dy": 26, "offset": 0},
"mark": {"type": "line", "strokeWidth": 3},
"encoding": {
"x": {"field": "angle", "type": "quantitative", "scale": {"domain": [38, 46], "nice": false, "zero": false},
 "axis": {"values": [38, 40, 42, 44, 46], "grid": false, "domainColor": "#a6a6a6", "domainWidth": 2.5, "tickColor": "#a6a6a6", "tickWidth": 1.5, "tickSize": 6, "labelFontSize": 17, "labelColor": "#222222", "labelPadding": 4, "title": "Angle (°)", "titleFontSize": 20, "titleFontWeight": "bold", "titleColor": "#222222", "titlePadding": 8}},
"y": {"field": "v", "type": "quantitative", "scale": {"domain": [0, 3e-6], "nice": false},
 "axis": {"values": [0, 1e-6, 2e-6, 3e-6], "labelExpr": "datum.value == 0 ? '0.E+00' : round(datum.value * 1000000) + '.E-06'", "grid": false, "domainColor": "#a6a6a6", "domainWidth": 2.5, "tickColor": "#a6a6a6", "tickWidth": 1.5, "tickSize": 6, "labelFontSize": 17, "labelColor": "#222222", "labelPadding": 8, "title": "<V>", "titleFontSize": 19, "titleFontWeight": "bold", "titleColor": "#222222", "titlePadding": 16}},
"color": {"field": "series", "type": "nominal", "scale": {"domain": ["ref", "30%", "40%"], "range": ["#111111", "#e8321e", "#a2c24a"]},
 "legend": {"orient": "none", "legendX": 30, "legendY": 27, "title": null, "labelFontSize": 18, "labelColor": "#222222", "labelOffset": 3, "rowPadding": 6, "symbolType": "stroke", "symbolSize": 1300, "symbolStrokeWidth": 3.5}},
"strokeDash": {"field": "series", "type": "nominal", "scale": {"domain": ["ref", "30%", "40%"], "range": [[1, 0], [24, 9], [1, 0]]}}
}
}
]
}
